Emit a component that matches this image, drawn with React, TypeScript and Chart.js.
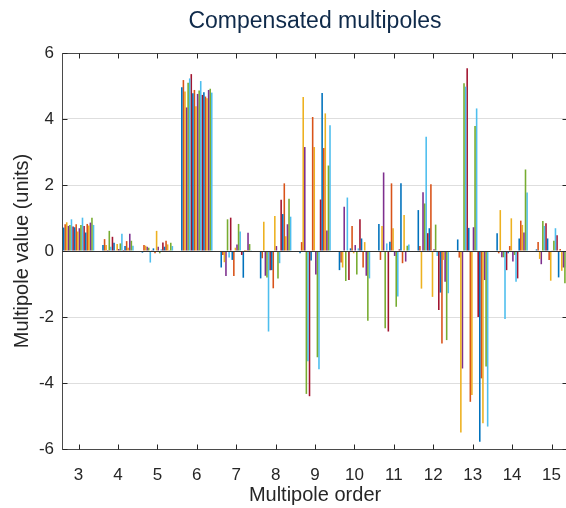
import React, { useEffect, useRef } from "react";
import { Chart, registerables } from "chart.js";

Chart.register(...registerables);

const TITLE = "Compensated multipoles";
const X_LABEL = "Multipole order";
const Y_LABEL = "Multipole value (units)";

const ORDERS = [3, 4, 5, 6, 7, 8, 9, 10, 11, 12, 13, 14, 15];
const Y_TICKS = [-6, -4, -2, 0, 2, 4, 6];

// values of the 20 series for each multipole order
const ORDER_3 = [0.71, 0.81, 0.87, 0.76, 0.79, 0.96, 0.74, 0.72, 0.81, 0.59, 0.69, 0.79, 1.01, 0.76, 0.56, 0.82, 0.77, 0.86, 1.01, 0.79];
const ORDER_4 = [0.18, 0.36, 0.18, 0.03, 0.61, 0.13, 0.43, 0.25, 0.02, 0.21, 0.06, 0.23, 0.52, 0.03, 0.15, 0.3, 0.1, 0.52, 0.31, 0.16];
const ORDER_5 = [-0.05, 0.18, 0.16, 0.13, 0.1, -0.35, 0.02, 0.08, -0.07, 0.61, 0.13, -0.07, 0.05, 0.26, 0.13, 0.31, 0.2, 0.02, 0.25, 0.15];
const ORDER_6 = [4.96, 5.18, 4.83, 4.35, 5.1, 5.23, 5.36, 4.78, 4.88, 4.39, 4.76, 4.86, 5.15, 4.73, 4.81, 4.68, 4.63, 4.88, 4.92, 4.8];
const ORDER_7 = [-0.5, -0.12, -0.34, -0.76, 0.96, -0.2, 1.01, -0.27, -0.76, 0.1, 0.2, 0.82, 0.59, -0.12, -0.81, 0.03, 0.03, 0.55, 0.21, 0.02];
const ORDER_8 = [-0.83, -0.22, 0.89, -0.75, -0.8, -2.44, -0.58, -0.58, -1.13, 1.06, 0.15, -0.83, -0.37, 1.55, 1.12, 2.05, 0.45, 0.81, 1.58, 1.04];
const ORDER_9 = [-0.07, 0.27, 4.67, 3.15, -4.33, -3.34, -4.4, -0.29, 4.06, 3.15, -0.71, -3.22, -3.58, 1.56, 4.79, 3.12, 4.17, 0.62, 2.59, 3.81];
const ORDER_10 = [-0.58, -0.35, -0.5, 1.34, -0.91, 1.62, -0.88, 0.08, 0.76, -0.07, 0.18, -0.71, 0.08, 0.96, 0.38, -0.5, 0.27, -0.75, -2.11, -0.83];
const ORDER_11 = [0.82, -0.27, 0.76, 2.38, -2.34, 0.23, -2.44, 0.28, 2.05, 0.69, -0.15, -1.69, -1.38, 0.05, 2.05, -0.37, 1.09, -0.32, 0.16, 0.2];
const ORDER_12 = [1.24, 0.15, -1.14, 1.78, 1.44, 3.46, 0.54, 0.69, 2.02, -1.39, 0.05, 0.8, -0.15, -1.79, -1.26, -2.8, -0.27, -0.93, -2.7, -1.28];
const ORDER_13 = [0.35, -0.2, -5.5, -3.56, 5.08, 4.98, 5.54, 0.7, -4.57, -4.36, 0.72, 3.79, 4.32, -2.0, -5.78, -3.86, -5.22, -0.88, -3.5, -5.32];
const ORDER_14 = [0.54, -0.07, 1.24, -0.19, -0.19, -2.06, -0.58, -0.07, 0.15, 0.99, -0.32, -0.12, -0.93, -0.83, 0.38, 0.92, 0.79, 0.56, 2.47, 1.77];
const ORDER_15 = [0.05, 0.27, -0.24, -0.4, 0.91, 0.76, 0.84, 0.38, -0.27, -0.9, 0.02, 0.31, 0.69, 0.48, -0.8, 0.06, -0.6, -0.5, -0.98, -0.5];

const VALUES_BY_ORDER = [ORDER_3, ORDER_4, ORDER_5, ORDER_6, ORDER_7, ORDER_8, ORDER_9, ORDER_10, ORDER_11, ORDER_12, ORDER_13, ORDER_14, ORDER_15];
const SERIES_COUNT = 20;
const SERIES_COLORS = ["#0072BD", "#D95319", "#EDB120", "#7E2F8E", "#77AC30", "#4DBEEE", "#A2142F"];

const FONT = "'Liberation Sans', Arial, Helvetica, sans-serif";
const TEXT_COLOR = "#262626";

export default function App() {
  const ref = useRef<HTMLCanvasElement | null>(null);

  useEffect(() => {
    if (!ref.current) return;
    const datasets = Array.from({ length: SERIES_COUNT }, (_, i) => ({
      label: `Series ${i + 1}`,
      data: ORDERS.map((o, k) => ({ x: o, y: VALUES_BY_ORDER[k][i] })),
      backgroundColor: SERIES_COLORS[i % SERIES_COLORS.length],
      borderWidth: 0,
      categoryPercentage: 0.8,
      barPercentage: 1.0,
    }));

    const framePlugin = {
      id: "frame",
      afterDatasetsDraw(chart: any) {
        const { ctx, chartArea, scales } = chart;
        const y0 = Math.round(scales.y.getPixelForValue(0)) + 0.5;
        ctx.save();
        ctx.strokeStyle = "#333333";
        ctx.lineWidth = 1;
        ctx.beginPath();
        ctx.moveTo(chartArea.left, y0);
        ctx.lineTo(chartArea.right, y0);
        ctx.stroke();
        ctx.restore();
      },
      afterDraw(chart: any) {
        const { ctx, chartArea, scales } = chart;
        const l = Math.round(chartArea.left) + 0.5;
        const r = Math.round(chartArea.right) - 0.5;
        const t = Math.round(chartArea.top) + 0.5;
        const b = Math.round(chartArea.bottom) + 0.5;
        ctx.save();
        ctx.strokeStyle = "#4a4a4a";
        ctx.lineWidth = 1;
        ctx.beginPath();
        ctx.rect(l, t, r - l, b - t);
        ctx.stroke();
        ctx.strokeStyle = TEXT_COLOR;
        ctx.beginPath();
        ORDERS.forEach((o) => {
          const px = Math.round(scales.x.getPixelForValue(o)) + 0.5;
          ctx.moveTo(px, b);
          ctx.lineTo(px, b - 5);
          ctx.moveTo(px, t);
          ctx.lineTo(px, t + 5);
        });
        Y_TICKS.forEach((v) => {
          const py = Math.round(scales.y.getPixelForValue(v)) + 0.5;
          ctx.moveTo(l, py);
          ctx.lineTo(l + 5, py);
          ctx.moveTo(r, py);
          ctx.lineTo(r - 5, py);
        });
        ctx.stroke();
        ctx.restore();
      },
    };

    const chart = new Chart(ref.current, {
      type: "bar",
      data: { datasets } as any,
      options: {
        responsive: false,
        animation: false,
        layout: { padding: 0 },
        plugins: {
          legend: { display: false },
          tooltip: { enabled: false },
          title: {
            display: true,
            text: TITLE,
            color: "#0f2a4a",
            fullSize: false,
            font: { family: FONT, size: 23, weight: "normal" },
            padding: { top: 8, bottom: 17.4 },
          },
        },
        scales: {
          x: {
            type: "linear",
            offset: false,
            min: 2.58,
            max: 15.42,
            afterBuildTicks: (s: any) => {
              s.ticks = ORDERS.map((v) => ({ value: v }));
            },
            afterFit: (s: any) => {
              s.height = 59;
            },
            grid: { display: false, offset: false },
            border: { display: false },
            ticks: {
              color: TEXT_COLOR,
              font: { family: FONT, size: 17 },
              padding: 8,
              autoSkip: false,
              maxRotation: 0,
              callback: (v: any) => String(v),
            },
            title: {
              display: true,
              text: X_LABEL,
              color: TEXT_COLOR,
              font: { family: FONT, size: 20 },
              padding: { top: 0, bottom: 1 },
            },
          },
          y: {
            min: -6,
            max: 6,
            afterBuildTicks: (s: any) => {
              s.ticks = Y_TICKS.map((v) => ({ value: v }));
            },
            afterFit: (s: any) => {
              s.width = 62;
            },
            grid: { color: "#dedede", drawTicks: false },
            border: { display: false },
            ticks: {
              color: TEXT_COLOR,
              font: { family: FONT, size: 17 },
              padding: 8,
              callback: (v: any) => String(v),
            },
            title: {
              display: true,
              text: Y_LABEL,
              color: TEXT_COLOR,
              font: { family: FONT, size: 20 },
              padding: { top: 10, bottom: 0 },
            },
          },
        },
      } as any,
      plugins: [framePlugin],
    });
    return () => chart.destroy();
  }, []);

  return (
    <div
      style={{
        position: "fixed",
        left: 0,
        top: 0,
        width: 566,
        height: 508,
        overflow: "hidden",
        background: "#ffffff",
      }}
    >
      <canvas ref={ref} width={569} height={508} style={{ display: "block" }} />
    </div>
  );
}
